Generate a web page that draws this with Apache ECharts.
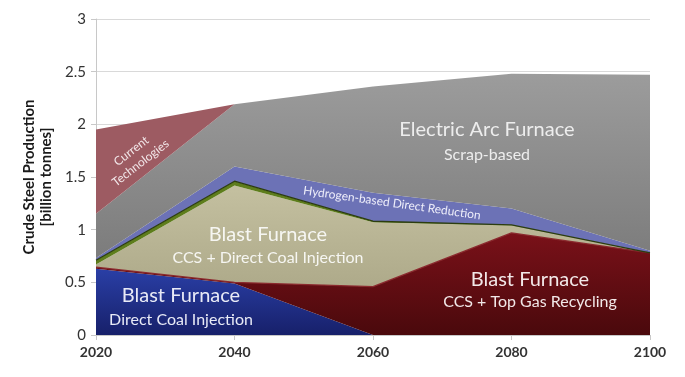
<!DOCTYPE html>
<html>
<head>
<meta charset="utf-8">
<script src="https://cdn.jsdelivr.net/npm/echarts@6/dist/echarts.min.js"></script>
<style>
  html, body { margin: 0; padding: 0; background: #fff; }
  #chart { width: 685px; height: 377px; }
</style>
</head>
<body>
<div id="chart"></div>
<script>
// years on the x axis
const years = ['2020', '2040', '2060', '2080', '2100'];
const yTicks = [0, 0.5, 1, 1.5, 2, 2.5, 3];

// layer thickness, billion tonnes (stacked, bottom to top)
const bfDirectCoal = [0.63, 0.49, 0, 0, 0];
const bfTopGas = [0.015, 0.01, 0.46, 0.97, 0.78];
const bfCcsCoal = [0.025, 0.92, 0.61, 0.07, 0];
const thinGreen = [0.04, 0.04, 0.01, 0.005, 0];
const hydrogen = [0.02, 0.14, 0.27, 0.155, 0.02];
const eafScrap = [0.42, 0.59, 1.01, 1.28, 1.67];
const currentTech = [0.80, 0, 0, 0, 0];

const font = 'Lato, "Open Sans", sans-serif';

function grad(top, bottom) {
    return new echarts.graphic.LinearGradient(0, 0, 0, 1, [
        { offset: 0, color: top },
        { offset: 1, color: bottom }
    ]);
}

function layer(name, values, fill, line) {
    return {
        name: name,
        type: 'line',
        stack: 'total',
        symbol: 'none',
        data: values,
        lineStyle: line ? { color: line, width: 1.3 } : { width: 0 },
        areaStyle: { color: fill, opacity: 1 },
        z: 2
    };
}

function label(text, x, y, size, fill, rotation) {
    return {
        type: 'text', x: x, y: y, z: 100, rotation: rotation || 0,
        style: {
            text: text, font: size + 'px ' + font, fill: fill,
            align: 'center', verticalAlign: 'middle', lineHeight: 15
        }
    };
}

let myChart = echarts.init(document.getElementById('chart'));

let option = {
    animation: false,
    backgroundColor: '#ffffff',
    grid: { left: 96, right: 35, top: 19, bottom: 42 },
    xAxis: {
        type: 'category',
        data: years,
        boundaryGap: false,
        axisLine: { show: true, lineStyle: { color: '#c8c8c8', width: 1 } },
        axisTick: { show: true, length: 5, alignWithLabel: true, lineStyle: { color: '#c8c8c8' } },
        splitLine: { show: false },
        axisLabel: {
            margin: 10,
            fontFamily: font,
            fontSize: 14,
            color: '#333',
            fontWeight: 'bold'
        }
    },
    yAxis: {
        type: 'value',
        min: 0,
        max: 3,
        interval: 0.5,
        name: 'Crude Steel Production\n[billion tonnes]',
        nameLocation: 'middle',
        nameGap: 35,
        nameTextStyle: {
            fontFamily: font,
            fontSize: 15,
            fontWeight: 'bold',
            color: '#1a1a1a',
            lineHeight: 17
        },
        axisLine: { show: true, lineStyle: { color: '#c8c8c8', width: 1 } },
        axisTick: { show: true, length: 5, lineStyle: { color: '#c8c8c8' } },
        splitLine: { show: true, lineStyle: { color: '#d9d9d9', width: 1 } },
        axisLabel: {
            margin: 10,
            fontFamily: font,
            fontSize: 15,
            color: '#333',
            formatter: v => yTicks.includes(v) ? String(v) : ''
        }
    },
    series: [
        layer('Blast Furnace Direct Coal Injection', bfDirectCoal, grad('#2a3fa6', '#17206a')),
        layer('Blast Furnace CCS + Top Gas Recycling', bfTopGas, grad('#7a1119', '#4a090c'), '#8a2a2e'),
        layer('Blast Furnace CCS + Direct Coal Injection', bfCcsCoal, grad('#c4c0a0', '#aeaa8a')),
        layer('thin', thinGreen, '#5e7d1c', '#2c3c10'),
        layer('Hydrogen-based Direct Reduction', hydrogen, '#6c72b6'),
        layer('Electric Arc Furnace Scrap-based', eafScrap, grad('#9c9c9c', '#7c7c7c')),
        layer('Current Technologies', currentTech, '#9d5b62')
    ],
    graphic: [
        label('Electric Arc Furnace', 487, 130, 20, '#ededed'),
        label('Scrap-based', 487, 155, 16, '#ededed'),
        label('Blast Furnace', 268, 235, 20, '#f6f6f2'),
        label('CCS + Direct Coal Injection', 268, 258, 16, '#f6f6f2'),
        label('Blast Furnace', 530, 280, 20, '#f2e8e8'),
        label('CCS + Top Gas Recycling', 530, 302, 16, '#f2e8e8'),
        label('Blast Furnace', 181, 296, 20, '#e8eaf6'),
        label('Direct Coal Injection', 181, 320, 16, '#e8eaf6'),
        label('Hydrogen-based Direct Reduction', 392, 203, 12, '#eeeefa', -0.14),
        label('Current\nTechnologies', 136, 157, 12, '#f2e6e8', 0.66)
    ]
};

myChart.setOption(option);
</script>
</body>
</html>
